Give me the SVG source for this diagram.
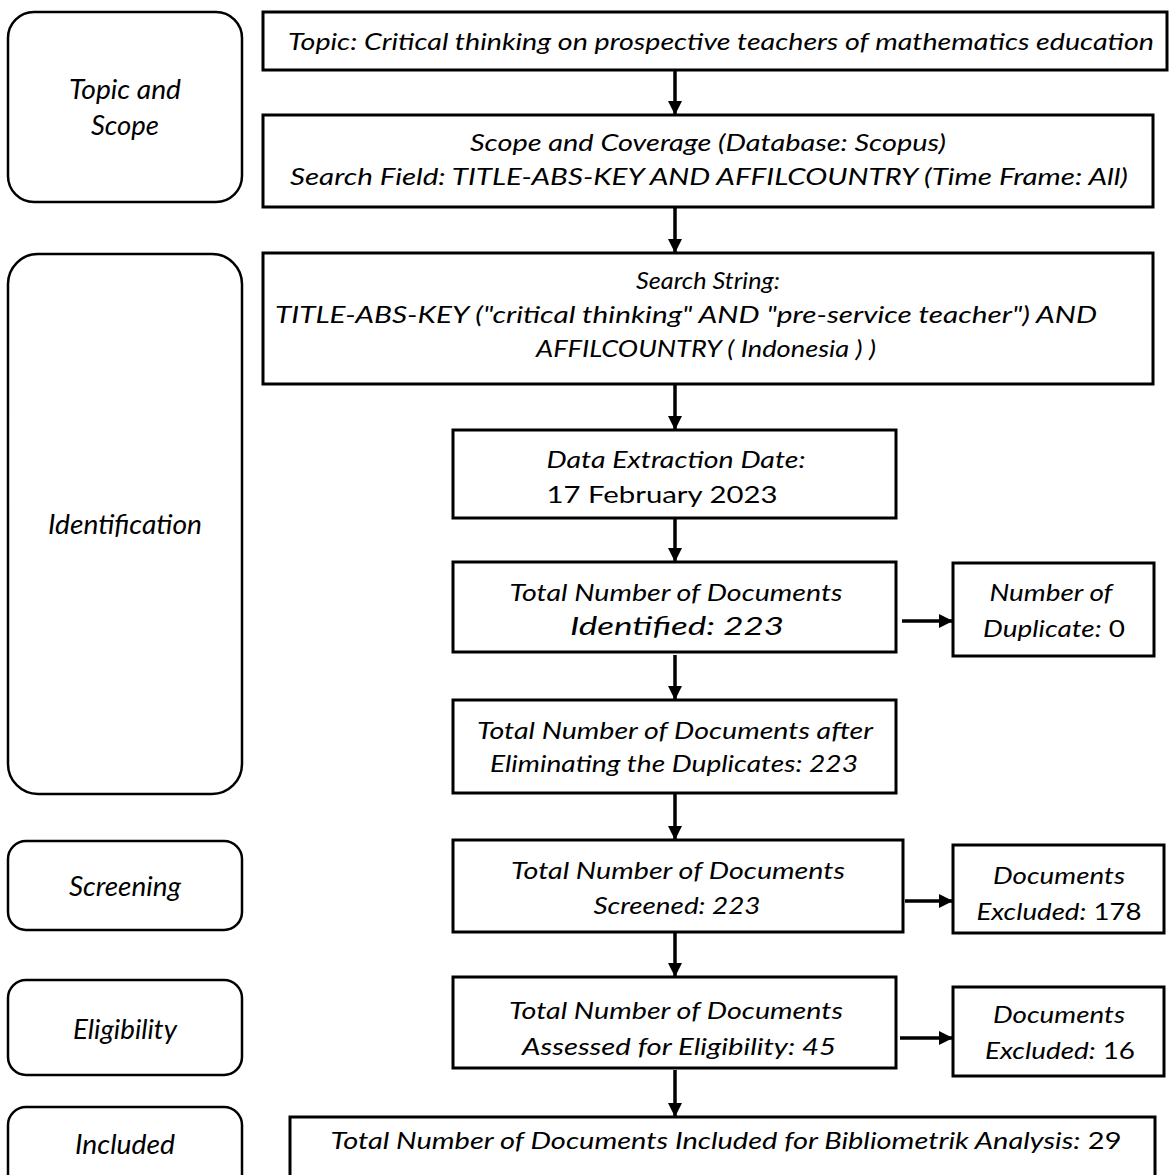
<svg xmlns="http://www.w3.org/2000/svg" width="1171" height="1175" viewBox="0 0 1171 1175">
<style>
.stage{fill:#fff;stroke:#000;stroke-width:2.5}
.box{fill:#fff;stroke:#000;stroke-width:3}
text{font-family:Lato,"Open Sans","Liberation Sans",sans-serif;font-size:24px;font-style:italic;fill:#000;text-anchor:middle}
.lbl{font-size:27px}
.up{font-style:normal}
.conn{stroke:#000;stroke-width:3.5;fill:none;marker-end:url(#ah)}
</style>
<defs>
<marker id="ah" markerUnits="userSpaceOnUse" markerWidth="16" markerHeight="16" refX="14" refY="7" orient="auto">
<path d="M0,0 L14,7 L0,14 Z" fill="#000"/>
</marker>
</defs>
<rect width="1171" height="1175" fill="#fff"/>

<g id="stage-topic">
<rect class="stage" x="8" y="12" width="234" height="190" rx="26"/>
<text class="lbl" x="125" y="99" textLength="112" lengthAdjust="spacingAndGlyphs">Topic and</text>
<text class="lbl" x="125" y="135" textLength="68" lengthAdjust="spacingAndGlyphs">Scope</text>
</g>
<g id="stage-identification">
<rect class="stage" x="8" y="254" width="234" height="540" rx="30"/>
<text class="lbl" x="125" y="534" textLength="154" lengthAdjust="spacingAndGlyphs">Identification</text>
</g>
<g id="stage-screening">
<rect class="stage" x="8" y="841" width="234" height="89" rx="18"/>
<text class="lbl" x="125" y="896" textLength="112" lengthAdjust="spacingAndGlyphs">Screening</text>
</g>
<g id="stage-eligibility">
<rect class="stage" x="8" y="980" width="234" height="95" rx="18"/>
<text class="lbl" x="125" y="1039" textLength="104" lengthAdjust="spacingAndGlyphs">Eligibility</text>
</g>
<g id="stage-included">
<rect class="stage" x="8" y="1107" width="234" height="90" rx="18"/>
<text class="lbl" x="125" y="1154" textLength="100" lengthAdjust="spacingAndGlyphs">Included</text>
</g>

<g id="n-topic">
<rect class="box" x="263" y="12" width="904" height="58"/>
<text x="721" y="50" textLength="866" lengthAdjust="spacingAndGlyphs">Topic: Critical thinking on prospective teachers of mathematics education</text>
</g>
<g id="n-scope">
<rect class="box" x="263" y="115" width="890" height="92"/>
<text x="708" y="151" textLength="476" lengthAdjust="spacingAndGlyphs">Scope and Coverage (Database: Scopus)</text>
<text x="709" y="185" textLength="838" lengthAdjust="spacingAndGlyphs">Search Field: TITLE-ABS-KEY AND AFFILCOUNTRY (Time Frame: All)</text>
</g>
<g id="n-search">
<rect class="box" x="263" y="253" width="890" height="131"/>
<text x="708" y="289" textLength="144" lengthAdjust="spacingAndGlyphs">Search String:</text>
<text x="686" y="323" textLength="822" lengthAdjust="spacingAndGlyphs">TITLE-ABS-KEY ("critical thinking" AND "pre-service teacher") AND</text>
<text x="706" y="357" textLength="340" lengthAdjust="spacingAndGlyphs">AFFILCOUNTRY ( Indonesia ) )</text>
</g>
<g id="n-date">
<rect class="box" x="453" y="430" width="443" height="88"/>
<text x="676" y="468" textLength="259" lengthAdjust="spacingAndGlyphs">Data Extraction Date:</text>
<text x="662" y="503" class="up" textLength="231" lengthAdjust="spacingAndGlyphs">17 February 2023</text>
</g>
<g id="n-identified">
<rect class="box" x="453" y="562" width="443" height="90"/>
<text x="676" y="601" textLength="333" lengthAdjust="spacingAndGlyphs">Total Number of Documents</text>
<text x="677" y="635" style="font-size:26px" textLength="214" lengthAdjust="spacingAndGlyphs">Identified: 223</text>
</g>
<g id="n-duplicate">
<rect class="box" x="953" y="563" width="201" height="93"/>
<text x="1051" y="601" textLength="123" lengthAdjust="spacingAndGlyphs">Number of</text>
<text x="1054" y="637" textLength="142" lengthAdjust="spacingAndGlyphs">Duplicate:<tspan class="up"> 0</tspan></text>
</g>
<g id="n-after">
<rect class="box" x="453" y="700" width="443" height="93"/>
<text x="675" y="739" textLength="396" lengthAdjust="spacingAndGlyphs">Total Number of Documents after</text>
<text x="674" y="772" textLength="368" lengthAdjust="spacingAndGlyphs">Eliminating the Duplicates: 223</text>
</g>
<g id="n-screened">
<rect class="box" x="453" y="840" width="450" height="92"/>
<text x="678" y="879" textLength="334" lengthAdjust="spacingAndGlyphs">Total Number of Documents</text>
<text x="677" y="914" textLength="167" lengthAdjust="spacingAndGlyphs">Screened: 223</text>
</g>
<g id="n-excluded1">
<rect class="box" x="953" y="845" width="211" height="88"/>
<text x="1059" y="884" textLength="132" lengthAdjust="spacingAndGlyphs">Documents</text>
<text x="1059" y="920" textLength="165" lengthAdjust="spacingAndGlyphs">Excluded:<tspan class="up"> 178</tspan></text>
</g>
<g id="n-eligibility">
<rect class="box" x="453" y="977" width="443" height="91"/>
<text x="676" y="1019" textLength="334" lengthAdjust="spacingAndGlyphs">Total Number of Documents</text>
<text x="679" y="1055" textLength="314" lengthAdjust="spacingAndGlyphs">Assessed for Eligibility: 45</text>
</g>
<g id="n-excluded2">
<rect class="box" x="953" y="987" width="211" height="89"/>
<text x="1059" y="1023" textLength="132" lengthAdjust="spacingAndGlyphs">Documents</text>
<text x="1060" y="1059" textLength="150" lengthAdjust="spacingAndGlyphs">Excluded:<tspan class="up"> 16</tspan></text>
</g>
<g id="n-included">
<rect class="box" x="290" y="1117" width="865" height="80"/>
<text x="726" y="1149" textLength="791" lengthAdjust="spacingAndGlyphs">Total Number of Documents Included for Bibliometrik Analysis:<tspan class="up"> 29</tspan></text>
</g>

<g id="connectors">
<line class="conn" x1="675" y1="70" x2="675" y2="115"/>
<line class="conn" x1="675" y1="207" x2="675" y2="253"/>
<line class="conn" x1="675" y1="384" x2="675" y2="430"/>
<line class="conn" x1="675" y1="518" x2="675" y2="562"/>
<line class="conn" x1="675" y1="655" x2="675" y2="700"/>
<line class="conn" x1="675" y1="794" x2="675" y2="840"/>
<line class="conn" x1="675" y1="932" x2="675" y2="977"/>
<line class="conn" x1="675" y1="1070" x2="675" y2="1117"/>
<line class="conn" x1="902" y1="621" x2="953" y2="621"/>
<line class="conn" x1="905" y1="901" x2="953" y2="901"/>
<line class="conn" x1="900" y1="1038" x2="953" y2="1038"/>
</g>
</svg>
